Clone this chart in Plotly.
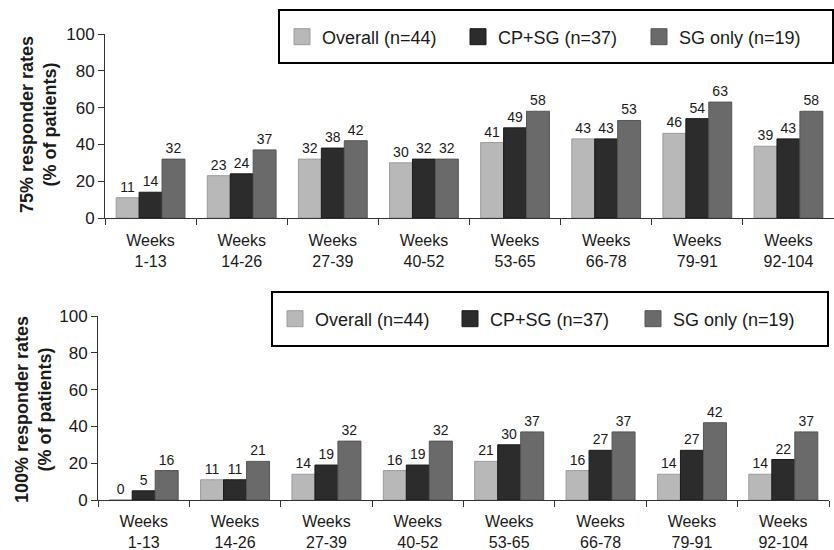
import plotly.graph_objects as go

categories = ["Weeks<br>1-13", "Weeks<br>14-26", "Weeks<br>27-39", "Weeks<br>40-52",
              "Weeks<br>53-65", "Weeks<br>66-78", "Weeks<br>79-91", "Weeks<br>92-104"]
series_names = ["Overall (n=44)", "CP+SG (n=37)", "SG only (n=19)"]

# 75% responder rates (% of patients)
r75_overall = [11, 23, 32, 30, 41, 43, 46, 39]
r75_cpsg = [14, 24, 38, 32, 49, 43, 54, 43]
r75_sgonly = [32, 37, 42, 32, 58, 53, 63, 58]

# 100% responder rates (% of patients)
r100_overall = [0, 11, 14, 16, 21, 16, 14, 14]
r100_cpsg = [5, 11, 19, 19, 30, 27, 27, 22]
r100_sgonly = [16, 21, 32, 32, 37, 37, 42, 37]

y_ticks = [0, 20, 40, 60, 80, 100]

colors = ["#b8b8b8", "#2c2c2c", "#6a6a6a"]
edge = ["#9c9c9c", "#1a1a1a", "#565656"]

W, H = 834, 550
FONT = "Liberation Sans, Arial, Helvetica, sans-serif"


def px_x(p):
    return p / W


def px_y(p):
    return 1 - p / H


fig = go.Figure()

# legend entry left positions (px) for each panel
legend_x = [[282, 458, 639], [275, 450, 633]]
legend_y = [37, 319]

panels = [
    ("x", "y", [r75_overall, r75_cpsg, r75_sgonly]),
    ("x2", "y2", [r100_overall, r100_cpsg, r100_sgonly]),
]

legend_layouts = {}
lg_index = 1
for p, (xa, ya, data) in enumerate(panels):
    for i, (name, vals) in enumerate(zip(series_names, data)):
        fig.add_trace(go.Bar(
            x=categories, y=vals, name=name, xaxis=xa, yaxis=ya,
            marker=dict(color=colors[i], line=dict(color=edge[i], width=1)),
            text=[str(v) for v in vals], textposition="outside",
            textangle=0, cliponaxis=False,
            textfont=dict(size=14, color="#1a1a1a", family=FONT),
            showlegend=False, hoverinfo="skip",
        ))
    for i, name in enumerate(series_names):
        lg = "legend" if lg_index == 1 else f"legend{lg_index}"
        fig.add_trace(go.Scatter(
            x=[None], y=[None], mode="markers", name=name, xaxis=xa, yaxis=ya,
            marker=dict(symbol="square", size=20, color=colors[i],
                        line=dict(color=edge[i], width=1)),
            legend=lg, showlegend=True,
        ))
        legend_layouts[lg] = dict(
            orientation="h", x=px_x(legend_x[p][i]), y=px_y(legend_y[p]),
            xanchor="left", yanchor="middle",
            bgcolor="rgba(0,0,0,0)", borderwidth=0,
            font=dict(size=18, color="#1a1a1a", family=FONT))
        lg_index += 1

axis_common = dict(showline=True, linecolor="#333333", linewidth=1,
                   ticks="outside", tickcolor="#333333", ticklen=6,
                   showgrid=False, zeroline=False, fixedrange=True)
y_font = dict(size=17, color="#1a1a1a", family=FONT)
x_font = dict(size=16, color="#1a1a1a", family=FONT)

fig.update_layout(
    width=W, height=H,
    margin=dict(l=0, r=0, t=0, b=0),
    paper_bgcolor="white", plot_bgcolor="white",
    font=dict(family=FONT, color="#1a1a1a"),
    barmode="group", bargap=0.245, bargroupgap=0,
    xaxis=dict(domain=[px_x(105), 1.0], anchor="y", tickson="boundaries",
               ticklabelstandoff=8, tickfont=x_font, automargin=False, **axis_common),
    yaxis=dict(domain=[px_y(218), px_y(34)], anchor="x", range=[0, 100],
               tickvals=y_ticks, tickfont=y_font, automargin=False, **axis_common),
    xaxis2=dict(domain=[px_x(98), px_x(829)], anchor="y2", tickson="boundaries",
                ticklabelstandoff=7, tickfont=x_font, automargin=False, **axis_common),
    yaxis2=dict(domain=[px_y(500), px_y(316)], anchor="x2", range=[0, 100],
                tickvals=y_ticks, tickfont=y_font, automargin=False, **axis_common),
    shapes=[
        dict(type="rect", xref="paper", yref="paper",
             x0=px_x(279), x1=px_x(833), y0=px_y(63), y1=px_y(10),
             line=dict(color="black", width=2), fillcolor="rgba(0,0,0,0)"),
        dict(type="rect", xref="paper", yref="paper",
             x0=px_x(272), x1=px_x(828), y0=px_y(346), y1=px_y(292),
             line=dict(color="black", width=2), fillcolor="rgba(0,0,0,0)"),
    ],
    annotations=[
        dict(text="<b>75% responder rates<br>(% of patients)</b>", xref="paper", yref="paper",
             x=px_x(38), y=px_y(125), textangle=-90, showarrow=False,
             xanchor="center", yanchor="middle",
             font=dict(size=18, color="#1a1a1a", family=FONT)),
        dict(text="<b>100% responder rates<br>(% of patients)</b>", xref="paper", yref="paper",
             x=px_x(33), y=px_y(410), textangle=-90, showarrow=False,
             xanchor="center", yanchor="middle",
             font=dict(size=18, color="#1a1a1a", family=FONT)),
    ],
)
fig.update_layout(**legend_layouts)

fig.write_html(
    "out.html",
    config={"displayModeBar": False},
    post_script="document.body.style.margin='0';document.documentElement.style.overflow='hidden';",
)
